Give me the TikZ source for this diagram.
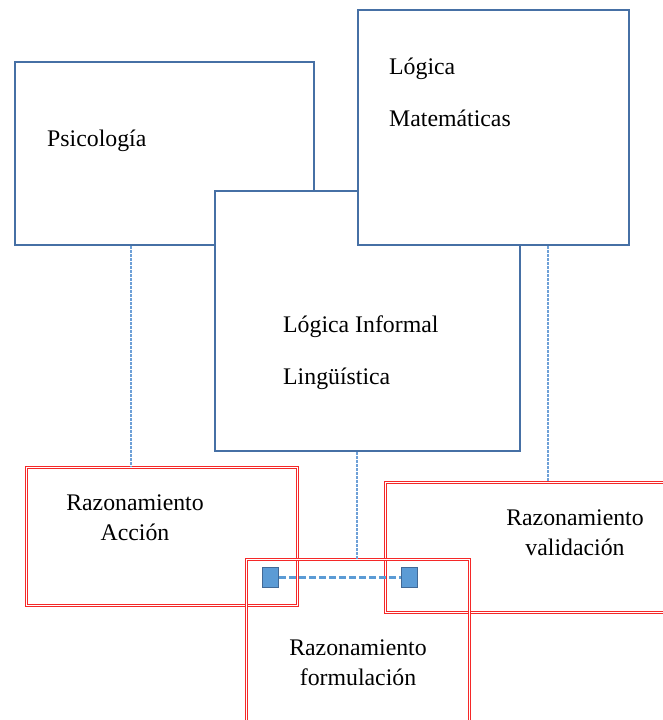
\documentclass[tikz,border=0pt]{standalone}
\usepackage{fontspec}
\setmainfont{Liberation Serif}
\definecolor{boxblue}{RGB}{70,112,165}
\definecolor{lineblue}{RGB}{110,160,215}
\definecolor{sqfill}{RGB}{91,155,213}
\definecolor{sqdraw}{RGB}{65,105,150}
\definecolor{boxred}{RGB}{245,40,40}
\begin{document}
\begin{tikzpicture}[x=1pt,y=-1pt,
  bluebox/.style={draw=boxblue, fill=white, line width=2.4pt, anchor=north west, inner sep=0pt},
  redbox/.style={draw=boxred, double=white, line width=0.8pt, double distance=1.6pt, anchor=north west, inner sep=0pt},
  conn/.style={draw=lineblue, line width=1.3pt, dash pattern=on 3pt off 1pt},
  link/.style={draw=sqfill, line width=2.2pt, dash pattern=on 7pt off 3pt},
  sqbox/.style={draw=sqdraw, fill=sqfill, line width=1.5pt, minimum width=16pt, minimum height=20pt, inner sep=0pt},
  txt/.style={font=\fontsize{23.8}{28}\selectfont, inner sep=0pt, text=black}]
\useasboundingbox (0,0) rectangle (663,720);
\clip (0,0) rectangle (663,720);
\fill[white] (0,0) rectangle (663,720);
% blue boxes
\node[bluebox, minimum width=299pt, minimum height=183pt] (psi) at (14,61) {};
\node[bluebox, minimum width=305pt, minimum height=260pt] (inf) at (214,190) {};
\node[bluebox, minimum width=271pt, minimum height=235pt] (mat) at (357,9) {};
% red boxes
\node[redbox, minimum width=271pt, minimum height=138pt] (acc) at (26,467) {};
\node[redbox, minimum width=315pt, minimum height=130pt] (val) at (385,482) {};
\node[redbox, minimum width=223pt, minimum height=200pt] (for) at (246,559) {};
% connectors
\coordinate (c1) at (131,0);
\coordinate (c2) at (357,0);
\coordinate (c3) at (548,0);
\draw[conn] (psi.south -| c1) -- (acc.north -| c1);
\draw[conn] (inf.south -| c2) -- (for.north -| c2);
\draw[conn] (mat.south -| c3) -- (val.north -| c3);
% squares
\node[sqbox] (sq1) at (270.5,577.5) {};
\node[sqbox] (sq2) at (409.5,577.5) {};
\draw[link] (sq1.east) -- (sq2.west);
% texts
\node[txt, anchor=base west] (t1) at (47,146) {Psicología};
\node[txt, anchor=base west] (t2) at (389,74) {Lógica};
\node[txt, anchor=base west] (t3) at (389,126) {Matemáticas};
\node[txt, anchor=base west] (t4) at (283,332) {Lógica Informal};
\node[txt, anchor=base west] (t5) at (283,384) {Lingüística};
\node[txt, anchor=base] (t6) at (135,510) {Razonamiento};
\node[txt, anchor=base] (t7) at (135,540) {Acción};
\node[txt, anchor=base] (t8) at (575,525) {Razonamiento};
\node[txt, anchor=base] (t9) at (575,555) {validación};
\node[txt, anchor=base] (t10) at (358,655) {Razonamiento};
\node[txt, anchor=base] (t11) at (358,685) {formulación};
\end{tikzpicture}
\end{document}
